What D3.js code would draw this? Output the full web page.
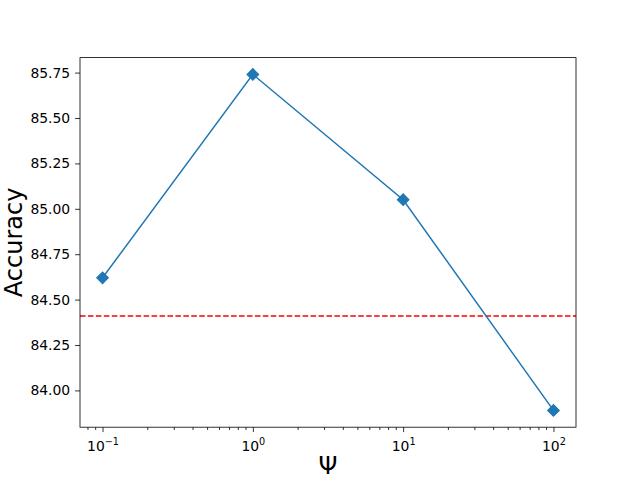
<!DOCTYPE html>
<html>
<head>
<meta charset="utf-8">
<script src="https://cdn.jsdelivr.net/npm/d3@7"></script>
<style>
  body { margin: 0; background: #fff; }
  text { font-family: "DejaVu Sans", sans-serif; fill: #000; }
</style>
</head>
<body>
<div id="chart"></div>
<script>
// data
var psi = [0.1, 1, 10, 100];
var accuracy = [84.62, 85.74, 85.05, 83.89];
var baseline = 84.41;
var yTicks = [84.00, 84.25, 84.50, 84.75, 85.00, 85.25, 85.50, 85.75];
var xTickExps = [-1, 0, 1, 2];

var margin = { top: 57.6, right: 64, bottom: 52.8, left: 80 },
    width = 640 - margin.left - margin.right,
    height = 480 - margin.top - margin.bottom;

var svg = d3.select("#chart")
      .append("svg")
      .attr("width", 640)
      .attr("height", 480);

var g = svg.append("g")
      .attr("transform", "translate(" + margin.left + "," + margin.top + ")");

// log x with 5% margin (in log space)
var xScale = d3.scaleLog()
      .domain([Math.pow(10, -1.15), Math.pow(10, 2.15)])
      .range([0, width]);

var ymin = d3.min(accuracy), ymax = d3.max(accuracy), pad = (ymax - ymin) * 0.05;
var yScale = d3.scaleLinear()
      .domain([ymin - pad, ymax + pad])
      .range([height, 0]);

// minor ticks
var minor = [];
for (var e = -2; e <= 2; e++) {
      for (var m = 2; m <= 9; m++) {
            var v = m * Math.pow(10, e);
            if (v >= xScale.domain()[0] && v <= xScale.domain()[1]) minor.push(v);
      }
}
g.selectAll("line.minor")
      .data(minor)
      .enter()
      .append("line")
      .attr("class", "minor")
      .attr("x1", function (d) { return xScale(d); })
      .attr("x2", function (d) { return xScale(d); })
      .attr("y1", height)
      .attr("y2", height + 2.8)
      .attr("stroke", "#000")
      .attr("stroke-width", 0.8);

// x axis
var xAxis = g.append("g")
      .attr("transform", "translate(0," + height + ")")
      .call(d3.axisBottom(xScale)
            .tickValues(xTickExps.map(function (e) { return Math.pow(10, e); }))
            .tickSize(4.9)
            .tickPadding(4.9)
            .tickFormat(""));
xAxis.select(".domain").remove();
xAxis.selectAll(".tick line").attr("stroke-width", 0.8);

var xl = xAxis.selectAll(".tick")
      .append("text")
      .attr("y", 24)
      .attr("text-anchor", "middle")
      .style("font-size", "13.9px");
xl.data(xTickExps).append("tspan").text("10");
xl.data(xTickExps).append("tspan")
      .attr("dy", -6)
      .style("font-size", "9.7px")
      .text(function (d) { return d < 0 ? "\u2212" + (-d) : d; });

// y axis
var yAxis = g.append("g")
      .call(d3.axisLeft(yScale)
            .tickValues(yTicks)
            .tickSize(4.9)
            .tickPadding(4.9)
            .tickFormat(d3.format(".2f")));
yAxis.select(".domain").remove();
yAxis.selectAll(".tick line").attr("stroke-width", 0.8);
yAxis.selectAll(".tick text")
      .style("font-size", "13.9px")
      .style("font-family", "DejaVu Sans, sans-serif");

// baseline
g.append("line")
      .attr("x1", 0)
      .attr("x2", width)
      .attr("y1", yScale(baseline))
      .attr("y2", yScale(baseline))
      .attr("stroke", "red")
      .attr("stroke-width", 1.5)
      .attr("stroke-dasharray", "5.55,2.4");

// line
var pts = psi.map(function (p, i) { return { x: p, y: accuracy[i] }; });
g.append("path")
      .datum(pts)
      .attr("fill", "none")
      .attr("stroke", "#1f77b4")
      .attr("stroke-width", 1.5)
      .attr("d", d3.line()
            .x(function (d) { return xScale(d.x); })
            .y(function (d) { return yScale(d.y); }));

// diamond markers
g.selectAll("rect.mk")
      .data(pts)
      .enter()
      .append("rect")
      .attr("class", "mk")
      .attr("x", -4.17)
      .attr("y", -4.17)
      .attr("width", 8.33)
      .attr("height", 8.33)
      .attr("transform", function (d) { return "translate(" + xScale(d.x) + "," + yScale(d.y) + ") rotate(45)"; })
      .attr("fill", "#1f77b4")
      .attr("stroke", "#1f77b4")
      .attr("stroke-width", 1);

// frame
g.append("rect")
      .attr("width", width)
      .attr("height", height)
      .attr("fill", "none")
      .attr("stroke", "#000")
      .attr("stroke-width", 0.8);

// axis labels
svg.append("text")
      .attr("x", margin.left + width / 2)
      .attr("y", 474)
      .attr("text-anchor", "middle")
      .style("font-size", "24px")
      .text("\u03A8");

svg.append("text")
      .attr("transform", "translate(22," + (margin.top + height / 2) + ") rotate(-90)")
      .attr("text-anchor", "middle")
      .style("font-size", "24px")
      .text("Accuracy");
</script>
</body>
</html>
